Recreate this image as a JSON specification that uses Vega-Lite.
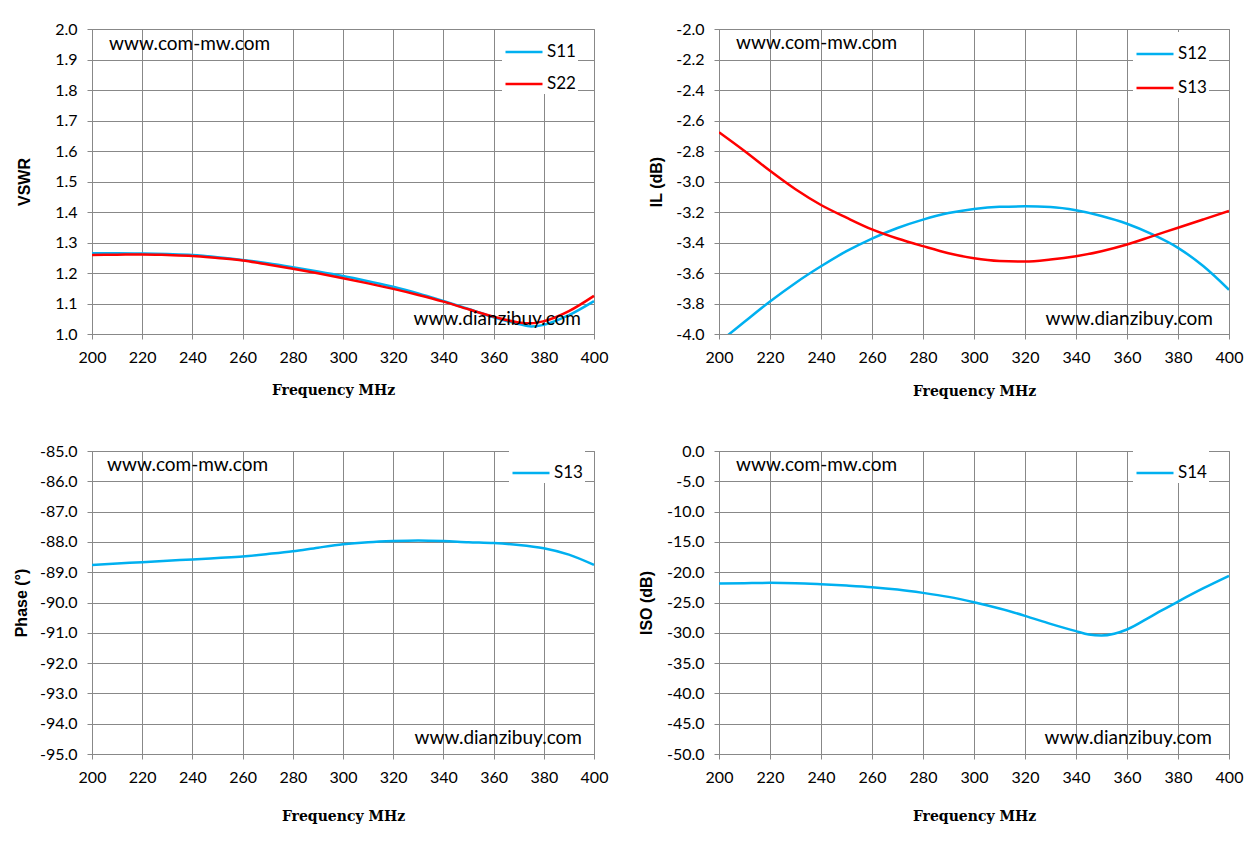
{
  "$schema": "https://vega.github.io/schema/vega-lite/v6.json",
  "background": "white",
  "padding": {"left": 12, "top": 20, "right": 5, "bottom": 5},
  "datasets": {
    "vswr": [
      {"f": 200, "s": "S11", "v": 1.265}, {"f": 210, "s": "S11", "v": 1.265}, {"f": 220, "s": "S11", "v": 1.264},
      {"f": 230, "s": "S11", "v": 1.262}, {"f": 240, "s": "S11", "v": 1.259}, {"f": 250, "s": "S11", "v": 1.252},
      {"f": 260, "s": "S11", "v": 1.243}, {"f": 270, "s": "S11", "v": 1.232}, {"f": 280, "s": "S11", "v": 1.219},
      {"f": 290, "s": "S11", "v": 1.205}, {"f": 300, "s": "S11", "v": 1.190}, {"f": 310, "s": "S11", "v": 1.173},
      {"f": 320, "s": "S11", "v": 1.155}, {"f": 330, "s": "S11", "v": 1.133}, {"f": 340, "s": "S11", "v": 1.108},
      {"f": 350, "s": "S11", "v": 1.082}, {"f": 360, "s": "S11", "v": 1.055}, {"f": 370, "s": "S11", "v": 1.033},
      {"f": 375, "s": "S11", "v": 1.025}, {"f": 380, "s": "S11", "v": 1.030}, {"f": 390, "s": "S11", "v": 1.062},
      {"f": 400, "s": "S11", "v": 1.108},
      {"f": 200, "s": "S22", "v": 1.259}, {"f": 210, "s": "S22", "v": 1.260}, {"f": 220, "s": "S22", "v": 1.261},
      {"f": 230, "s": "S22", "v": 1.259}, {"f": 240, "s": "S22", "v": 1.256}, {"f": 250, "s": "S22", "v": 1.249},
      {"f": 260, "s": "S22", "v": 1.241}, {"f": 270, "s": "S22", "v": 1.228}, {"f": 280, "s": "S22", "v": 1.214},
      {"f": 290, "s": "S22", "v": 1.199}, {"f": 300, "s": "S22", "v": 1.183}, {"f": 310, "s": "S22", "v": 1.166},
      {"f": 320, "s": "S22", "v": 1.148}, {"f": 330, "s": "S22", "v": 1.128}, {"f": 340, "s": "S22", "v": 1.106},
      {"f": 350, "s": "S22", "v": 1.081}, {"f": 360, "s": "S22", "v": 1.057}, {"f": 370, "s": "S22", "v": 1.038},
      {"f": 375, "s": "S22", "v": 1.035}, {"f": 380, "s": "S22", "v": 1.042}, {"f": 390, "s": "S22", "v": 1.075},
      {"f": 400, "s": "S22", "v": 1.125}
    ],
    "il": [
      {"f": 200, "s": "S12", "v": -4.055}, {"f": 210, "s": "S12", "v": -3.920}, {"f": 220, "s": "S12", "v": -3.787},
      {"f": 230, "s": "S12", "v": -3.665}, {"f": 240, "s": "S12", "v": -3.556}, {"f": 250, "s": "S12", "v": -3.457},
      {"f": 260, "s": "S12", "v": -3.374}, {"f": 270, "s": "S12", "v": -3.305}, {"f": 280, "s": "S12", "v": -3.250},
      {"f": 290, "s": "S12", "v": -3.207}, {"f": 300, "s": "S12", "v": -3.180}, {"f": 310, "s": "S12", "v": -3.166},
      {"f": 320, "s": "S12", "v": -3.163}, {"f": 330, "s": "S12", "v": -3.168}, {"f": 340, "s": "S12", "v": -3.189},
      {"f": 350, "s": "S12", "v": -3.226}, {"f": 360, "s": "S12", "v": -3.277}, {"f": 370, "s": "S12", "v": -3.347},
      {"f": 380, "s": "S12", "v": -3.435}, {"f": 390, "s": "S12", "v": -3.556}, {"f": 400, "s": "S12", "v": -3.710},
      {"f": 200, "s": "S13", "v": -2.677}, {"f": 210, "s": "S13", "v": -2.800}, {"f": 220, "s": "S13", "v": -2.930},
      {"f": 230, "s": "S13", "v": -3.051}, {"f": 240, "s": "S13", "v": -3.154}, {"f": 250, "s": "S13", "v": -3.237},
      {"f": 260, "s": "S13", "v": -3.314}, {"f": 270, "s": "S13", "v": -3.374}, {"f": 280, "s": "S13", "v": -3.424},
      {"f": 290, "s": "S13", "v": -3.470}, {"f": 300, "s": "S13", "v": -3.503}, {"f": 310, "s": "S13", "v": -3.521},
      {"f": 320, "s": "S13", "v": -3.525}, {"f": 330, "s": "S13", "v": -3.512}, {"f": 340, "s": "S13", "v": -3.490},
      {"f": 350, "s": "S13", "v": -3.457}, {"f": 360, "s": "S13", "v": -3.413}, {"f": 370, "s": "S13", "v": -3.358},
      {"f": 380, "s": "S13", "v": -3.303}, {"f": 390, "s": "S13", "v": -3.248}, {"f": 400, "s": "S13", "v": -3.193}
    ],
    "phase": [
      {"f": 200, "s": "S13", "v": -88.76}, {"f": 210, "s": "S13", "v": -88.71}, {"f": 220, "s": "S13", "v": -88.67},
      {"f": 230, "s": "S13", "v": -88.62}, {"f": 240, "s": "S13", "v": -88.58}, {"f": 250, "s": "S13", "v": -88.53},
      {"f": 260, "s": "S13", "v": -88.48}, {"f": 270, "s": "S13", "v": -88.40}, {"f": 280, "s": "S13", "v": -88.31},
      {"f": 290, "s": "S13", "v": -88.19}, {"f": 300, "s": "S13", "v": -88.08}, {"f": 310, "s": "S13", "v": -88.01},
      {"f": 320, "s": "S13", "v": -87.97}, {"f": 330, "s": "S13", "v": -87.95}, {"f": 340, "s": "S13", "v": -87.97},
      {"f": 350, "s": "S13", "v": -88.01}, {"f": 360, "s": "S13", "v": -88.04}, {"f": 370, "s": "S13", "v": -88.10},
      {"f": 380, "s": "S13", "v": -88.21}, {"f": 390, "s": "S13", "v": -88.42}, {"f": 400, "s": "S13", "v": -88.76}
    ],
    "iso": [
      {"f": 200, "s": "S14", "v": -21.87}, {"f": 210, "s": "S14", "v": -21.81}, {"f": 220, "s": "S14", "v": -21.76},
      {"f": 230, "s": "S14", "v": -21.81}, {"f": 240, "s": "S14", "v": -21.98}, {"f": 250, "s": "S14", "v": -22.20},
      {"f": 260, "s": "S14", "v": -22.47}, {"f": 270, "s": "S14", "v": -22.86}, {"f": 280, "s": "S14", "v": -23.41},
      {"f": 290, "s": "S14", "v": -24.07}, {"f": 300, "s": "S14", "v": -24.95}, {"f": 310, "s": "S14", "v": -25.99},
      {"f": 320, "s": "S14", "v": -27.20}, {"f": 330, "s": "S14", "v": -28.52}, {"f": 340, "s": "S14", "v": -29.73},
      {"f": 345, "s": "S14", "v": -30.28}, {"f": 350, "s": "S14", "v": -30.45}, {"f": 355, "s": "S14", "v": -30.15},
      {"f": 360, "s": "S14", "v": -29.45}, {"f": 370, "s": "S14", "v": -27.15}, {"f": 380, "s": "S14", "v": -24.84},
      {"f": 390, "s": "S14", "v": -22.64}, {"f": 400, "s": "S14", "v": -20.60}
    ]
  },
  "config": {
    "view": {"stroke": "#888888", "strokeWidth": 1},
    "axis": {
      "domainColor": "#888888", "tickColor": "#888888", "gridColor": "#888888",
      "gridOpacity": 1, "gridWidth": 1, "tickSize": 5, "labelPadding": 10, "tickCount": 11,
      "labelFont": "Lato", "labelFontSize": 16, "labelColor": "#000000",
      "labelFlush": false, "labelOverlap": false,
      "titleFont": "Liberation Sans", "titleFontWeight": "bold", "titleFontSize": 16, "titleColor": "#000000"
    },
    "axisX": {"titleFont": "DejaVu Serif", "titleFontSize": 14, "minExtent": 31, "maxExtent": 31, "labelAngle": 0},
    "axisY": {"minExtent": 40, "maxExtent": 40},
    "legend": {
      "orient": "none", "padding": 2, "fillColor": "white",
      "title": null, "symbolType": "stroke", "symbolSize": 1369, "symbolStrokeWidth": 2.5,
      "symbolOffset": 0, "labelOffset": 3, "rowPadding": 4,
      "labelFont": "Lato", "labelFontSize": 17, "labelColor": "#000000"
    },
    "text": {"font": "Lato", "fontSize": 19, "color": "#000000", "baseline": "middle"}
  },
  "columns": 2,
  "bounds": "flush",
  "spacing": {"row": 117, "column": 125},
  "resolve": {"scale": {"color": "independent"}},
  "concat": [
    {
      "width": 502,
      "height": 305,
      "layer": [
        {
          "data": {"name": "vswr"},
          "mark": {"type": "line", "interpolate": "monotone", "strokeWidth": 2.5},
          "encoding": {
            "x": {"field": "f", "type": "quantitative", "scale": {"domain": [200, 400], "nice": false},
                  "axis": {"title": "Frequency MHz", "values": [200, 220, 240, 260, 280, 300, 320, 340, 360, 380, 400], "format": "d", "titlePadding": 18, "titleX": 241, "tickCount": 11}},
            "y": {"field": "v", "type": "quantitative", "scale": {"domain": [1.0, 2.0], "nice": false, "zero": false},
                  "axis": {"title": "VSWR", "values": [1.0, 1.1, 1.2, 1.3, 1.4, 1.5, 1.6, 1.7, 1.8, 1.9, 2.0], "tickCount": 11, "labelExpr": "format(datum.value, '.1f')", "titlePadding": 20}},
            "color": {"field": "s", "type": "nominal", "scale": {"domain": ["S11", "S22"], "range": ["#00B0F0", "#FF0000"]},
                      "legend": {"legendX": 410, "legendY": 1}}
          }
        },
        {
          "data": {"values": [{"t": "www.com-mw.com"}]},
          "mark": {"type": "text", "align": "left"},
          "encoding": {"x": {"datum": 206.8, "type": "quantitative"}, "y": {"datum": 1.951, "type": "quantitative"}, "text": {"field": "t"}}
        },
        {
          "data": {"values": [{"t": "www.dianzibuy.com"}]},
          "mark": {"type": "text", "align": "right"},
          "encoding": {"x": {"datum": 394.8, "type": "quantitative"}, "y": {"datum": 1.049, "type": "quantitative"}, "text": {"field": "t"}}
        }
      ]
    },
    {
      "width": 510,
      "height": 305,
      "layer": [
        {
          "data": {"name": "il"},
          "mark": {"type": "line", "interpolate": "monotone", "strokeWidth": 2.5, "clip": true},
          "encoding": {
            "x": {"field": "f", "type": "quantitative", "scale": {"domain": [200, 400], "nice": false},
                  "axis": {"title": "Frequency MHz", "values": [200, 220, 240, 260, 280, 300, 320, 340, 360, 380, 400], "format": "d", "titlePadding": 19, "tickCount": 11}},
            "y": {"field": "v", "type": "quantitative", "scale": {"domain": [-4.0, -2.0], "nice": false, "zero": false},
                  "axis": {"title": "IL (dB)", "values": [-4.0, -3.8, -3.6, -3.4, -3.2, -3.0, -2.8, -2.6, -2.4, -2.2, -2.0], "tickCount": 11, "labelExpr": "replace(format(datum.value, '.1f'), '\u2212', '-')", "titlePadding": 15}},
            "color": {"field": "s", "type": "nominal", "scale": {"domain": ["S12", "S13"], "range": ["#00B0F0", "#FF0000"]},
                      "legend": {"legendX": 414, "legendY": 3, "rowPadding": 6}}
          }
        },
        {
          "data": {"values": [{"t": "www.com-mw.com"}]},
          "mark": {"type": "text", "align": "left"},
          "encoding": {"x": {"datum": 206.7, "type": "quantitative"}, "y": {"datum": -2.095, "type": "quantitative"}, "text": {"field": "t"}}
        },
        {
          "data": {"values": [{"t": "www.dianzibuy.com"}]},
          "mark": {"type": "text", "align": "right"},
          "encoding": {"x": {"datum": 393.7, "type": "quantitative"}, "y": {"datum": -3.9, "type": "quantitative"}, "text": {"field": "t"}}
        }
      ]
    },
    {
      "width": 502,
      "height": 303,
      "layer": [
        {
          "data": {"name": "phase"},
          "mark": {"type": "line", "interpolate": "monotone", "strokeWidth": 2.5},
          "encoding": {
            "x": {"field": "f", "type": "quantitative", "scale": {"domain": [200, 400], "nice": false},
                  "axis": {"title": "Frequency MHz", "values": [200, 220, 240, 260, 280, 300, 320, 340, 360, 380, 400], "format": "d", "titlePadding": 24, "tickCount": 11}},
            "y": {"field": "v", "type": "quantitative", "scale": {"domain": [-95, -85], "nice": false, "zero": false},
                  "axis": {"title": "Phase (°)", "values": [-95, -94, -93, -92, -91, -90, -89, -88, -87, -86, -85], "tickCount": 11, "labelExpr": "replace(format(datum.value, '.1f'), '\u2212', '-')", "titlePadding": 23}},
            "color": {"field": "s", "type": "nominal", "scale": {"domain": ["S13"], "range": ["#00B0F0"]},
                      "legend": {"legendX": 417, "legendY": 0}}
          }
        },
        {
          "data": {"values": [{"t": "www.com-mw.com"}]},
          "mark": {"type": "text", "align": "left"},
          "encoding": {"x": {"datum": 206, "type": "quantitative"}, "y": {"datum": -85.46, "type": "quantitative"}, "text": {"field": "t"}}
        },
        {
          "data": {"values": [{"t": "www.dianzibuy.com"}]},
          "mark": {"type": "text", "align": "right"},
          "encoding": {"x": {"datum": 395.2, "type": "quantitative"}, "y": {"datum": -94.46, "type": "quantitative"}, "text": {"field": "t"}}
        }
      ]
    },
    {
      "width": 510,
      "height": 303,
      "layer": [
        {
          "data": {"name": "iso"},
          "mark": {"type": "line", "interpolate": "monotone", "strokeWidth": 2.5},
          "encoding": {
            "x": {"field": "f", "type": "quantitative", "scale": {"domain": [200, 400], "nice": false},
                  "axis": {"title": "Frequency MHz", "values": [200, 220, 240, 260, 280, 300, 320, 340, 360, 380, 400], "format": "d", "titlePadding": 24, "tickCount": 11}},
            "y": {"field": "v", "type": "quantitative", "scale": {"domain": [-50, 0], "nice": false, "zero": false},
                  "axis": {"title": "ISO (dB)", "values": [-50, -45, -40, -35, -30, -25, -20, -15, -10, -5, 0], "tickCount": 11, "labelExpr": "replace(format(datum.value, '.1f'), '\u2212', '-')", "titlePadding": 25}},
            "color": {"field": "s", "type": "nominal", "scale": {"domain": ["S14"], "range": ["#00B0F0"]},
                      "legend": {"legendX": 414, "legendY": 0}}
          }
        },
        {
          "data": {"values": [{"t": "www.com-mw.com"}]},
          "mark": {"type": "text", "align": "left"},
          "encoding": {"x": {"datum": 206.7, "type": "quantitative"}, "y": {"datum": -2.31, "type": "quantitative"}, "text": {"field": "t"}}
        },
        {
          "data": {"values": [{"t": "www.dianzibuy.com"}]},
          "mark": {"type": "text", "align": "right"},
          "encoding": {"x": {"datum": 393.3, "type": "quantitative"}, "y": {"datum": -47.3, "type": "quantitative"}, "text": {"field": "t"}}
        }
      ]
    }
  ]
}
